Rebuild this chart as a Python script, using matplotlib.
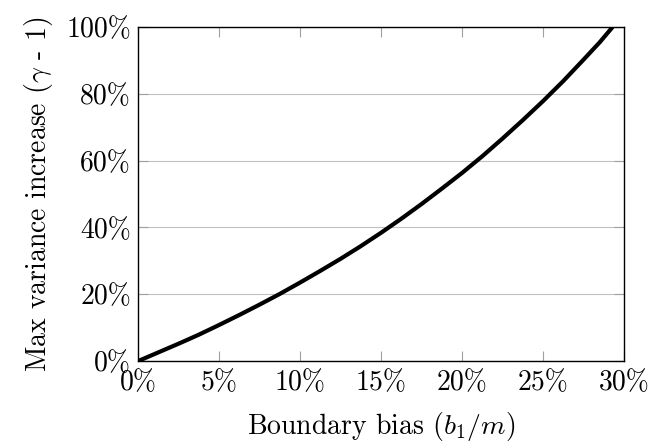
import matplotlib
matplotlib.use('Agg')
import matplotlib.pyplot as plt

plt.rcParams['font.family'] = 'serif'
plt.rcParams['font.serif'] = ['cmr10', 'DejaVu Serif']
plt.rcParams['mathtext.fontset'] = 'cm'
plt.rcParams['axes.formatter.use_mathtext'] = True

# boundary bias (%) vs max variance increase (%)
bias = [0, 1.25, 2.5, 3.75, 5, 6.25, 7.5, 8.75, 10, 11.25, 12.5, 13.75, 15,
        16.25, 17.5, 18.75, 20, 21.25, 22.5, 23.75, 25, 26.25, 27.5, 28.5, 29.3]
increase = [0, 2.6, 5.2, 7.9, 10.8, 13.8, 16.9, 20.1, 23.5, 27.0, 30.6, 34.4, 38.4,
            42.6, 47.0, 51.6, 56.3, 61.3, 66.6, 72.1, 77.8, 83.8, 90.2, 95.4, 100]

x_ticks = [0, 5, 10, 15, 20, 25, 30]
y_ticks = [0, 20, 40, 60, 80, 100]

fig = plt.figure(figsize=(6.51, 4.42), dpi=100)
ax = fig.add_axes([0.212, 0.183, 0.7465, 0.756])

ax.plot(bias, increase, color='black', lw=3, solid_capstyle='butt', zorder=3)

ax.set_xlim(0, 30)
ax.set_ylim(0, 100)
ax.set_xticks(x_ticks)
ax.set_xticklabels([f'{t}%' for t in x_ticks])
ax.set_yticks(y_ticks)
ax.set_yticklabels([f'{t}%' for t in y_ticks])

ax.grid(axis='y', color='#c0c0c0', lw=0.8)
ax.tick_params(direction='in', length=7, color='#a0a0a0', width=0.8,
               top=True, right=True, labelsize=20, pad=5)
ax.tick_params(axis='x', pad=6)
for s in ax.spines.values():
    s.set_linewidth(1.0)

ax.set_xlabel('Boundary bias ($b_1/m$)', fontsize=20, labelpad=10)
ax.set_ylabel('Max variance increase ($\\gamma$ - 1)', fontsize=20, labelpad=8)

fig.savefig('out.png', dpi=100)
